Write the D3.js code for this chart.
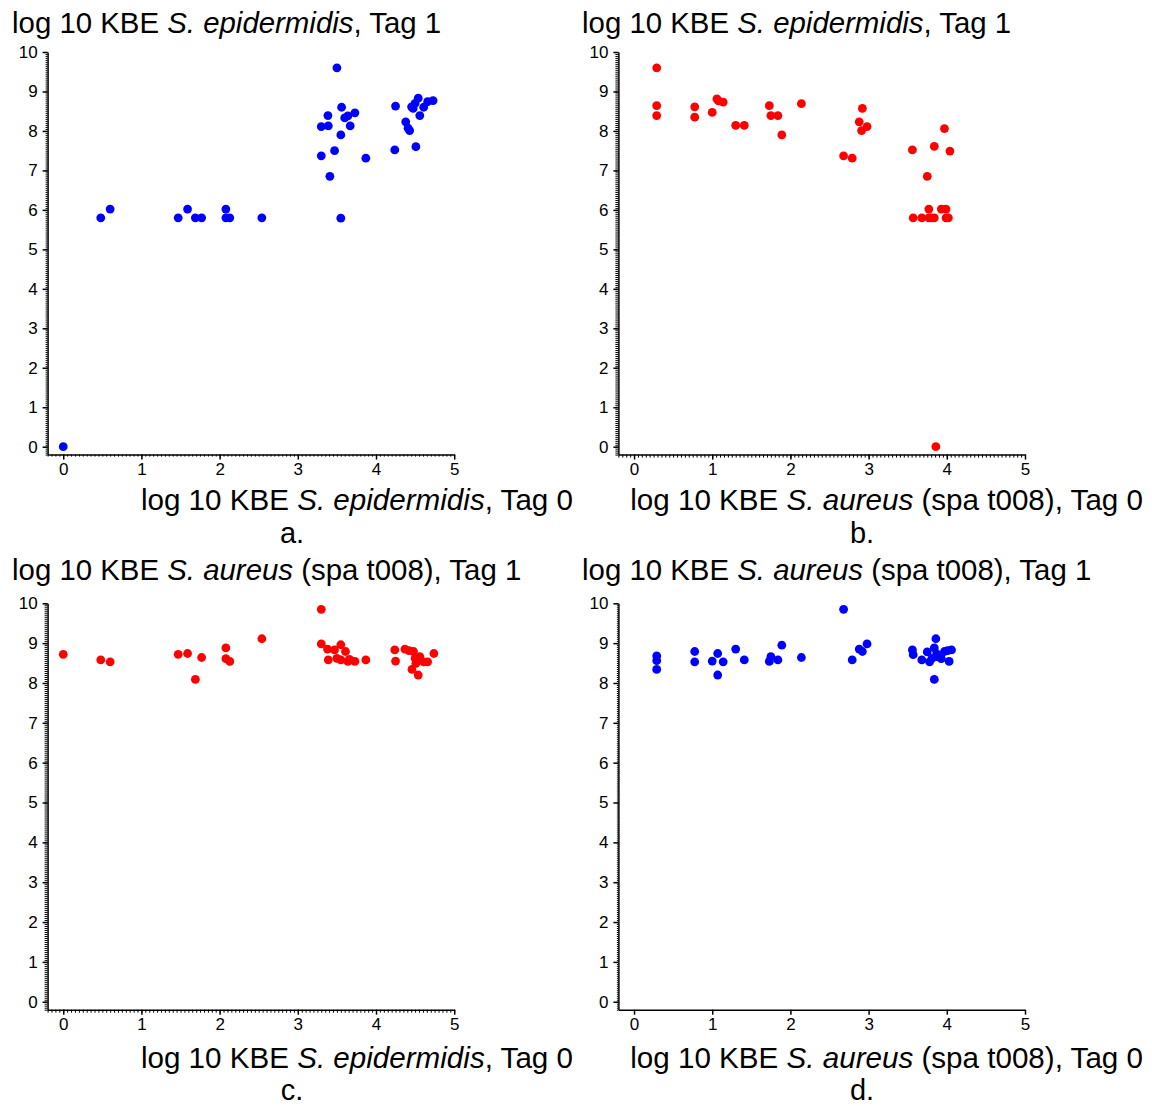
<!DOCTYPE html>
<html><head><meta charset="utf-8">
<script src="https://cdn.jsdelivr.net/npm/d3@7"></script>
<style>body{margin:0;background:#fff}svg{display:block}text{font-family:"Liberation Sans",Arial,sans-serif}</style>
</head><body>
<svg id="c" width="1152" height="1106"></svg>
<script>
// Panel a: S. epidermidis Tag 0 (x) vs S. epidermidis Tag 1 (y)
const aX = [0,0.48,0.60,1.47,1.59,1.69,1.77,2.08,2.08,2.13,2.54,
  3.50,3.56,3.385,3.30,3.39,3.60,3.64,3.67,3.73,3.55,3.30,3.47,3.87,3.41,3.55,
  4.25,4.455,4.475,4.50,4.54,4.61,4.66,4.73,4.56,4.38,4.41,4.43,4.24,4.51];
const aY = [0,5.80,6.02,5.80,6.02,5.80,5.80,6.02,5.80,5.80,5.80,
  9.60,8.60,8.39,8.11,8.13,8.33,8.38,8.13,8.46,7.90,7.37,7.50,7.31,6.85,5.79,
  8.63,8.61,8.57,8.70,8.83,8.60,8.74,8.77,8.39,8.23,8.07,8.01,7.52,7.60];
// Panel b: S. aureus Tag 0 (x) vs S. epidermidis Tag 1 (y)
const bX = [0.29,0.29,0.29,0.776,0.776,1.00,1.06,1.08,1.14,1.30,1.41,1.73,1.75,1.84,1.89,2.14,
  2.68,2.79,2.92,2.88,2.91,2.98,3.56,3.84,3.97,4.04,3.75,
  3.57,3.68,3.77,3.80,3.84,3.99,4.02,3.77,3.93,3.99,3.86];
const bY = [9.60,8.64,8.39,8.61,8.35,8.47,8.81,8.76,8.73,8.14,8.14,8.64,8.39,8.39,7.90,8.69,
  7.37,7.31,8.57,8.23,8.01,8.11,7.52,7.61,8.06,7.49,6.85,
  5.80,5.80,5.80,5.80,5.80,5.80,5.80,6.02,6.02,6.02,0];
// Panel c: S. epidermidis Tag 0 (x) vs S. aureus Tag 1 (y)
const cX = [0,0.48,0.60,1.47,1.59,1.69,1.77,2.08,2.08,2.13,2.54,
  3.30,3.30,3.38,3.39,3.47,3.50,3.55,3.55,3.61,3.64,3.66,3.73,3.87,
  4.24,4.25,4.37,4.42,4.46,4.48,4.50,4.51,4.54,4.56,4.61,4.66,4.74];
const cY = [8.72,8.58,8.53,8.72,8.74,8.09,8.64,8.88,8.61,8.54,9.11,
  9.85,8.98,8.85,8.58,8.83,8.62,8.96,8.58,8.79,8.54,8.59,8.54,8.58,
  8.83,8.55,8.85,8.81,8.34,8.79,8.62,8.49,8.20,8.66,8.53,8.53,8.74];
// Panel d: S. aureus Tag 0 (x) vs S. aureus Tag 1 (y)
const dX = [0.29,0.29,0.29,0.776,0.776,1.00,1.07,1.07,1.14,1.30,1.41,1.73,1.75,1.84,1.89,2.14,
  2.68,2.79,2.88,2.92,2.98,3.56,3.57,3.68,3.75,3.78,3.84,3.86,3.84,3.87,3.93,3.97,4.01,4.03,4.06,3.81,3.87];
const dY = [8.68,8.56,8.34,8.79,8.53,8.55,8.74,8.20,8.53,8.85,8.58,8.54,8.66,8.58,8.95,8.64,
  9.85,8.58,8.85,8.79,8.98,8.83,8.71,8.58,8.78,8.53,8.88,9.11,8.09,8.73,8.61,8.79,8.81,8.54,8.83,8.62,8.66];

const xTicks = [0,1,2,3,4,5];
const yTicks = [0,1,2,3,4,5,6,7,8,9,10];
const titles = ["log 10 KBE |S. epidermidis|, Tag 1","log 10 KBE |S. epidermidis|, Tag 1",
  "log 10 KBE |S. aureus| (spa t008), Tag 1","log 10 KBE |S. aureus| (spa t008), Tag 1"];
const xLabels = ["log 10 KBE |S. epidermidis|, Tag 0","log 10 KBE |S. aureus| (spa t008), Tag 0",
  "log 10 KBE |S. epidermidis|, Tag 0","log 10 KBE |S. aureus| (spa t008), Tag 0"];
const letters = ["a.","b.","c.","d."];

const panels = [
  {xs:aX, ys:aY, color:"#0000ff", xr:[47.6,454.2], yr:[454.6,52], tx:12, ty:33, lx:573, ly:510, cx:292, cy:543, minX:2, minY:2},
  {xs:bX, ys:bY, color:"#ff0000", xr:[618.4,1025], yr:[454.6,52], tx:582, ty:33, lx:1143, ly:510, cx:862, cy:543, minX:3, minY:3},
  {xs:cX, ys:cY, color:"#ff0000", xr:[47.6,454.2], yr:[1009.7,603.3], tx:12, ty:580, lx:573, ly:1068, cx:292, cy:1100, minX:3, minY:3},
  {xs:dX, ys:dY, color:"#0000ff", xr:[618.4,1025], yr:[1009.7,603.3], tx:582, ty:580, lx:1143, ly:1068, cx:862, cy:1100, minX:0, minY:1.5}
];

const svg = d3.select("#c");
function richText(sel, str){
  str.split("|").forEach((part,i)=>{
    sel.append("tspan").attr("font-style", i%2 ? "italic" : "normal").text(part);
  });
}
const minorX = d3.range(-0.2, 5.001, 0.05).map(v=>+v.toFixed(2));
const minorY = d3.range(-0.2, 10.001, 0.05).map(v=>+v.toFixed(2));
const FONT = "'Liberation Sans', Arial, sans-serif";

panels.forEach((p,i)=>{
  const x = d3.scaleLinear().domain([-0.2,5]).range(p.xr);
  const y = d3.scaleLinear().domain([-0.2,10]).range(p.yr);
  const g = svg.append("g");
  const x0 = p.xr[0], y0 = p.yr[0];
  if (p.minX>0){
    g.append("g").attr("transform",`translate(0,${y0})`)
      .call(d3.axisBottom(x).tickValues(minorX).tickSize(p.minX).tickFormat(""))
      .call(s=>s.select(".domain").remove())
      .call(s=>s.selectAll("line").attr("stroke","#000").attr("stroke-width",1));
  }
  if (p.minY>0){
    g.append("g").attr("transform",`translate(${x0},0)`)
      .call(d3.axisLeft(y).tickValues(minorY).tickSize(p.minY).tickFormat(""))
      .call(s=>s.select(".domain").remove())
      .call(s=>s.selectAll("line").attr("stroke","#000").attr("stroke-width",1));
  }
  const ax = g.append("g").attr("transform",`translate(0,${y0})`)
    .call(d3.axisBottom(x).tickValues(xTicks).tickFormat(d3.format("d")).tickSize(5).tickPadding(3).tickSizeOuter(0));
  const ay = g.append("g").attr("transform",`translate(${x0},0)`)
    .call(d3.axisLeft(y).tickValues(yTicks).tickFormat(d3.format("d")).tickSize(5).tickPadding(5).tickSizeOuter(0));
  [ax,ay].forEach(a=>{
    a.attr("font-size",17).attr("font-family",FONT);
    a.selectAll("text").attr("font-size",17).attr("fill","#000").attr("font-family",FONT);
    a.selectAll("line").attr("stroke","#000").attr("stroke-width",1.5);
    a.select(".domain").attr("stroke","#000").attr("stroke-width",1.5);
  });
  g.append("g").selectAll("circle").data(p.xs.map((v,k)=>[v,p.ys[k]])).join("circle")
    .attr("cx",d=>x(d[0])).attr("cy",d=>y(d[1])).attr("r",4.4).attr("fill",p.color);
  const t = svg.append("text").attr("x",p.tx).attr("y",p.ty).attr("font-size",29.4).attr("fill","#000");
  richText(t,titles[i]);
  const l = svg.append("text").attr("x",p.lx).attr("y",p.ly).attr("font-size",29.6).attr("text-anchor","end").attr("fill","#000");
  richText(l,xLabels[i]);
  svg.append("text").attr("x",p.cx).attr("y",p.cy).attr("font-size",29).attr("text-anchor","middle").attr("fill","#000").text(letters[i]);
});
</script>
</body></html>
